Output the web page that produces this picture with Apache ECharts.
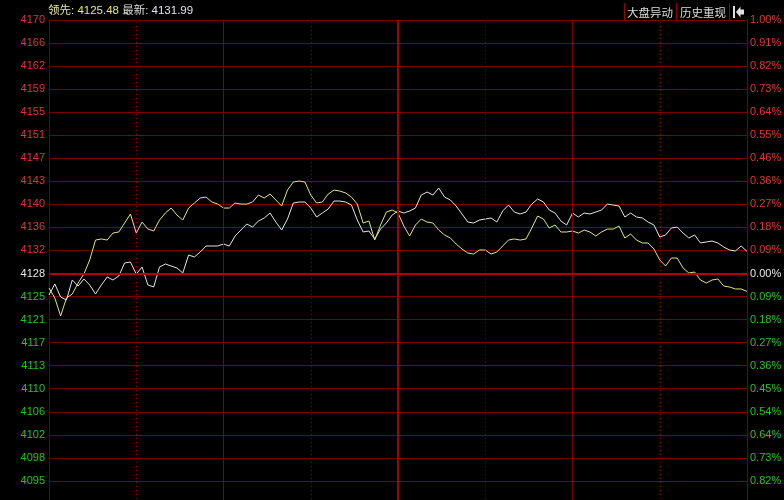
<!DOCTYPE html>
<html><head><meta charset="utf-8">
<style>html,body{margin:0;padding:0;background:#000;}#c{width:784px;height:500px;}</style>
<script src="https://cdn.jsdelivr.net/npm/echarts@6/dist/echarts.min.js"></script>
</head><body><div id="c"></div>
<script>
const prevClose = 4128.4;
const leaderValues = [
4126.04,4124.41,4121.48,4124.41,4125.06,4126.85,4128.32,4130.60,4133.85,4134.02,
4133.85,4134.99,4135.16,4136.62,4138.09,4134.99,4136.78,4135.64,4135.32,4137.11,
4138.25,4139.06,4137.92,4137.11,4139.06,4139.88,4140.69,4140.85,4140.04,4139.71,
4139.06,4139.06,4139.88,4139.71,4139.71,4140.04,4141.18,4140.69,4141.34,4140.37,
4139.39,4141.99,4143.30,4143.46,4143.30,4141.18,4139.88,4140.04,4141.34,4141.99,
4141.83,4141.51,4140.85,4139.71,4136.62,4136.95,4133.85,4136.30,4138.41,4138.74,
4138.25,4136.13,4134.51,4136.30,4137.27,4136.78,4136.62,4135.48,4134.67,4134.18,
4133.20,4132.39,4131.74,4131.57,4132.23,4132.23,4131.57,4131.90,4132.88,4133.85,
4134.02,4133.85,4134.02,4135.81,4137.76,4137.27,4135.81,4136.30,4135.16,4135.16,
4135.32,4134.99,4135.48,4135.16,4134.51,4135.16,4135.64,4135.64,4136.13,4134.18,
4134.83,4133.85,4133.37,4133.37,4132.39,4130.60,4129.62,4130.92,4130.92,4129.30,
4128.48,4128.64,4127.34,4126.85,4127.34,4127.50,4126.36,4126.20,4125.88,4125.88,
4125.48];
const indexValues = [
4124.90,4126.69,4124.57,4124.09,4127.34,4126.36,4127.50,4126.53,4125.06,4126.53,
4127.83,4127.34,4127.99,4130.11,4130.27,4128.32,4129.46,4126.53,4126.20,4129.46,
4129.95,4129.62,4129.30,4128.48,4131.41,4131.09,4131.90,4132.88,4132.88,4132.88,
4133.20,4132.88,4134.51,4135.48,4136.46,4135.97,4136.95,4137.44,4138.25,4136.78,
4135.48,4137.27,4139.88,4140.04,4140.04,4139.06,4137.60,4138.25,4138.90,4140.20,
4140.20,4140.04,4139.55,4137.11,4135.16,4135.32,4134.02,4135.64,4136.62,4137.92,
4138.58,4138.25,4138.58,4139.06,4141.18,4141.67,4141.18,4142.32,4140.85,4140.37,
4139.39,4138.09,4136.78,4136.62,4137.11,4137.27,4137.44,4136.78,4138.58,4139.55,
4138.41,4138.09,4138.41,4139.71,4140.53,4140.04,4138.74,4138.25,4136.95,4136.30,
4138.25,4137.60,4138.25,4138.09,4138.41,4138.74,4139.71,4139.55,4139.39,4137.60,
4138.25,4137.60,4137.44,4136.78,4136.30,4134.34,4134.67,4135.81,4135.97,4134.99,
4134.18,4134.67,4133.37,4133.53,4133.69,4133.37,4132.71,4132.23,4132.06,4132.88,
4131.99];
const leftTickLabels = ['4170','4166','4162','4159','4155','4151','4147','4143','4140','4136','4132','4128','4125','4121','4117','4113','4110','4106','4102','4098','4095'];
const rightTickLabels = ['1.00%','0.91%','0.82%','0.73%','0.64%','0.55%','0.46%','0.36%','0.27%','0.18%','0.09%','0.00%','0.09%','0.18%','0.27%','0.36%','0.45%','0.54%','0.64%','0.73%','0.82%'];
const headerLeaderLabel = '领先:';
const headerLeaderValue = '4125.48';
const headerLatestLabel = '最新:';
const headerLatestValue = '4131.99';
const buttonTexts = ['大盘异动','历史重现'];

// category times (2-minute sampling of the trading session)
const times = [];
for (let k = 0; k < leaderValues.length; k++) {
  const m = 2 * k;
  const t = m <= 120 ? 570 + m : 780 + (m - 120);
  times.push(Math.floor(t / 60) + ':' + String(t % 60).padStart(2, '0'));
}
const step = prevClose * 0.01 / 11;
const toStep = p => +((p - prevClose) / step).toFixed(4);

const RED = '#e8322f', GREEN = '#1ec81e', WHITE = '#e6e6e6';
const GRIDC = '#7d0000';
const font = '"Liberation Sans", Arial, "Noto Sans CJK SC", sans-serif';

function labelIdx(v) { const i = 11 - Math.round(Number(v)); return (i < 0 || i > 20) ? -1 : i; }
function labelColor(v) { v = Number(v); return v > 0.01 ? RED : (v < -0.01 ? GREEN : WHITE); }

const chart = echarts.init(document.getElementById('c'), null, {renderer: 'canvas'});
const vLine = (idx, style) => ({xAxis: times[idx], lineStyle: style});
const dotted = {type: [1, 3], color: '#a00000', width: 1};
const solid = {type: 'solid', color: '#8a0000', width: 1};

chart.setOption({
  backgroundColor: '#000',
  animation: false,
  grid: {left: 49, top: 20, width: 698, height: 507, containLabel: false, outerBoundsMode: 'none'},
  xAxis: {type: 'category', data: times, boundaryGap: false, show: false},
  yAxis: [
    {type: 'value', min: -11, max: 11, interval: 1, position: 'left',
     axisLine: {show: true, lineStyle: {color: GRIDC, width: 1}},
     axisTick: {show: false},
     splitLine: {show: true, lineStyle: {color: GRIDC, width: 1}},
     axisLabel: {show: true, margin: 4, fontSize: 11, fontFamily: font, showMinLabel: true, showMaxLabel: true,
       formatter: v => { const i = labelIdx(v); return i < 0 ? '' : leftTickLabels[i]; },
       color: v => labelColor(v)}},
    {type: 'value', min: -11, max: 11, interval: 1, position: 'right',
     axisLine: {show: true, lineStyle: {color: GRIDC, width: 1}},
     axisTick: {show: false},
     splitLine: {show: false},
     axisLabel: {show: true, margin: 3, fontSize: 11, fontFamily: font, showMinLabel: true, showMaxLabel: true,
       formatter: v => { const i = labelIdx(v); return i < 0 ? '' : rightTickLabels[i]; },
       color: v => labelColor(v)}}
  ],
  series: [
    {type: 'line', name: '最新', data: indexValues.map(toStep), showSymbol: false, symbol: 'none',
     lineStyle: {color: '#e4e4e4', width: 1}, z: 3,
     markLine: {silent: true, symbol: ['none', 'none'], label: {show: false}, animation: false,
       emphasis: {disabled: true},
       data: [
         vLine(15, dotted), vLine(45, dotted), vLine(75, dotted), vLine(105, dotted),
         vLine(30, solid), vLine(90, solid),
         vLine(60, {type: 'solid', color: '#a80000', width: 2}),
         {yAxis: 0, lineStyle: {type: 'solid', color: '#b00000', width: 2}}
       ]}},
    {type: 'line', name: '领先', data: leaderValues.map(toStep), showSymbol: false, symbol: 'none',
     lineStyle: {color: '#e6e66e', width: 1}, z: 4}
  ],
  graphic: [
    {type: 'text', left: 48, top: 5, z: 10,
     style: {text: '{a|' + headerLeaderLabel + '} {b|' + headerLeaderValue + '} {c|' + headerLatestLabel + '} {d|' + headerLatestValue + '}',
       font: '11.5px ' + font,
       rich: {a: {fill: '#e8e8a0', fontSize: 11.5, fontFamily: font},
              b: {fill: '#e6e67a', fontSize: 11.5, fontFamily: font},
              c: {fill: '#dcdcdc', fontSize: 11.5, fontFamily: font},
              d: {fill: '#dfe6ee', fontSize: 11.5, fontFamily: font}}}},
    {type: 'line', shape: {x1: 624.5, y1: 3, x2: 624.5, y2: 20}, style: {stroke: '#a00000', lineWidth: 1}, z: 10},
    {type: 'line', shape: {x1: 676.5, y1: 3, x2: 676.5, y2: 20}, style: {stroke: '#a00000', lineWidth: 1}, z: 10},
    {type: 'line', shape: {x1: 729.5, y1: 3, x2: 729.5, y2: 20}, style: {stroke: '#a00000', lineWidth: 1}, z: 10},
    {type: 'text', x: 650, y: 12.5, z: 10,
     style: {text: buttonTexts[0], fill: '#dcdcdc', font: '11.5px "Noto Sans CJK SC", sans-serif', align: 'center', verticalAlign: 'middle'}},
    {type: 'text', x: 703, y: 12.5, z: 10,
     style: {text: buttonTexts[1], fill: '#dcdcdc', font: '11.5px "Noto Sans CJK SC", sans-serif', align: 'center', verticalAlign: 'middle'}},
    {type: 'rect', shape: {x: 733, y: 6, width: 2, height: 12}, style: {fill: '#e0e0e0'}, z: 10},
    {type: 'polygon', shape: {points: [[736, 12], [740.5, 6.5], [740.5, 9.5], [744, 9.5], [744, 14.5], [740.5, 14.5], [740.5, 17.5]]}, style: {fill: '#e0e0e0'}, z: 10}
  ]
});
</script>
</body></html>
